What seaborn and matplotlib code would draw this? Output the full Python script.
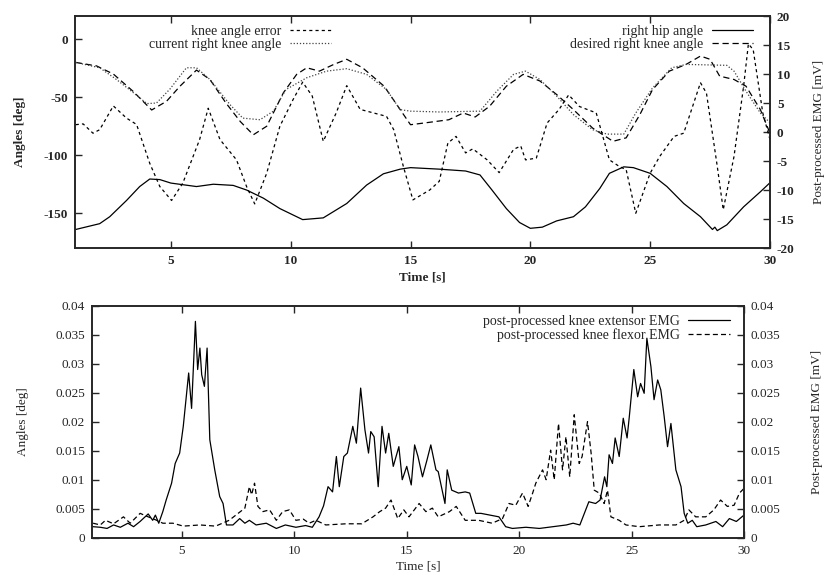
import numpy as np
import pandas as pd
import matplotlib
matplotlib.use("Agg")
import matplotlib.pyplot as plt
from matplotlib.ticker import FuncFormatter
import seaborn as sns

# ---- top panel: angles (left axis) and knee angle error (right axis) ----
hip_t = [1.03, 2.03, 2.45, 3.15, 3.7, 4.12, 4.54, 5.0, 6.07, 6.77, 7.6, 8.16, 8.86, 9.55,
         10.5, 11.36, 12.34, 13.17, 13.87, 14.57, 15.0, 16.2, 17.3, 17.9, 18.4, 19.0, 19.55,
         20.0, 20.5, 21.1, 21.8, 22.3, 22.9, 23.3, 23.9, 24.3, 25.0, 25.7, 26.4, 27.1, 27.6,
         27.7, 27.8, 28.2, 28.9, 29.6, 30.0]
hip_angle = [-164, -159, -153, -139, -127, -120.5, -121, -124, -127, -125, -126, -130, -137, -146,
             -155.5, -154, -141.6, -125.7, -116, -112, -110.7, -112, -113.6, -117, -130, -146, -158,
             -163, -162, -156.6, -153, -144.5, -128.6, -115.6, -110, -110.7, -115.6, -127, -141.6, -153, -164,
             -162, -165, -160, -144.5, -131.5, -123.7]

des_t = [1.03, 1.9, 2.6, 3.43, 4.2, 4.82, 5.38, 6.07, 6.63, 7.3, 7.9, 8.44, 9.0, 9.7, 10.25,
         10.67, 11.2, 11.8, 12.34, 13.0, 13.9, 14.57, 15.0, 15.65, 16.6, 17.2, 17.7, 18.3, 19.0,
         19.7, 20.4, 21.1, 21.8, 22.6, 23.45, 24.0, 24.57, 25.1, 25.8, 26.5, 27.1, 27.5, 27.9,
         28.5, 29.0, 29.6, 30.0]
desired_knee = [-20, -23, -30, -45, -61, -53.5, -40.5, -26.6, -34.7, -55, -71, -82.4, -75, -46, -30.3,
                -24.6, -27.5, -21.7, -17.3, -24.6, -40.5, -60.7, -73.7, -72, -69.4, -63.6, -67, -57.8, -40.5,
                -30.3, -36, -47.7, -60.7, -76.6, -88, -85, -65, -43.4, -27.5, -21.7, -14.5, -17.3, -31.8,
                -34.7, -40.5, -60.7, -81]

cur_t = [1.03, 2.03, 2.73, 3.43, 4.0, 4.4, 4.96, 5.65, 6.07, 6.63, 7.47, 8.0, 8.72, 9.28, 9.8,
         10.67, 11.5, 12.34, 13.17, 14.0, 14.57, 15.0, 16.2, 17.9, 18.6, 19.3, 19.8, 20.4, 21.1,
         21.8, 22.6, 23.2, 23.9, 24.4, 25.1, 25.9, 26.5, 28.2, 28.5, 29.0, 29.6, 30.0]
current_knee = [-20, -24.6, -34.7, -46, -55.5, -55, -43, -24.6, -24.6, -34.7, -56.4, -68, -69.4, -62, -43.4,
                -33.2, -27.5, -25.4, -30.3, -43.4, -60.7, -62, -62.7, -62, -44.8, -30.3, -27.5, -34.7, -49,
                -65, -78, -81.8, -81.8, -63.6, -42, -24.6, -21.7, -22.5, -27.5, -44.8, -63.6, -72]

err_t = [1.03, 1.34, 1.75, 2.03, 2.6, 3.15, 3.57, 4.12, 4.54, 5.03, 5.5, 6.2, 6.56, 7.05, 7.74,
         8.16, 8.5, 9.0, 9.55, 10.1, 10.5, 10.9, 11.36, 11.9, 12.34, 12.9, 13.45, 14.0, 14.3, 14.7,
         15.1, 15.8, 16.2, 16.56, 16.9, 17.3, 17.6, 18.2, 18.7, 19.3, 19.6, 19.8, 20.25, 20.7, 21.2,
         21.6, 22.05, 22.75, 23.3, 23.7, 24.0, 24.4, 25.0, 25.4, 26.0, 26.4, 27.1, 27.35, 27.8, 28.05,
         28.5, 28.9, 29.1, 29.3, 29.7, 30.0]
knee_error = [1.27, 1.4, -0.2, 0.4, 4.5, 2.4, 1.3, -5.4, -9.4, -11.8, -8.8, -1.3, 4.1, -1.3, -4.8,
              -9.4, -12.4, -7.1, 1.0, 5.6, 8.6, 6.2, -1.6, 3.3, 8.0, 3.9, 3.3, 2.7, 0.4, -5.9,
              -11.7, -10, -8.5, -1.9, -0.75, -3.6, -2.9, -4.8, -7, -3, -2.4, -4.8, -4.5, 1.55, 3.9,
              6.4, 4.4, 3.3, -4.8, -5.9, -6.5, -14, -7.1, -4.2, -0.75, -0.2, 8.5, 6.7, -5.9, -13.4,
              -4.2, 7.9, 15.2, 14.2, 3.3, -1.3]

# ---- bottom panel: post-processed EMG ----
ext_t = [1.05, 1.37, 1.67, 1.96, 2.26, 2.6, 2.85, 3.14, 3.5, 3.7, 3.82, 3.97, 4.15, 4.3, 4.54,
         4.7, 4.9, 5.06, 5.18, 5.3, 5.43, 5.5, 5.6, 5.7, 5.8, 5.88, 6.0, 6.12, 6.24, 6.46, 6.68,
         6.83, 6.98, 7.27, 7.57, 7.8, 8.0, 8.3, 8.75, 9.2, 9.6, 10.07, 10.5, 10.8, 11.1, 11.3,
         11.5, 11.7, 11.87, 12.0, 12.2, 12.36, 12.6, 12.76, 12.95, 13.14, 13.3, 13.4, 13.55, 13.73,
         13.9, 14.06, 14.2, 14.4, 14.65, 14.8, 15.0, 15.2, 15.35, 15.5, 15.7, 15.9, 16.07, 16.3,
         16.4, 16.7, 16.8, 17.0, 17.3, 17.6, 17.8, 18.07, 18.3, 18.7, 19.1, 19.4, 19.7, 20.3,
         20.9, 21.5, 22.1, 22.4, 22.7, 22.9, 23.1, 23.4, 23.6, 23.8, 23.9, 24.0, 24.15, 24.27,
         24.45, 24.63, 24.8, 24.9, 25.1, 25.27, 25.4, 25.56, 25.68, 25.86, 26.0, 26.16, 26.3,
         26.45, 26.6, 26.75, 26.97, 27.2, 27.34, 27.5, 27.7, 27.9, 28.3, 28.75, 29.05, 29.35,
         29.66, 30.0]
extensor_emg = [0.0019, 0.0018, 0.0016, 0.0022, 0.0018, 0.0025, 0.0019, 0.0028, 0.0041, 0.0030, 0.0039,
                0.0025, 0.0045, 0.0065, 0.0094, 0.0128, 0.0146, 0.0192, 0.0238, 0.0284, 0.0223, 0.0284,
                0.0373, 0.0290, 0.0327, 0.0281, 0.0261, 0.0327, 0.0169, 0.0117, 0.0071, 0.0059, 0.0022,
                0.0022, 0.0033, 0.0025, 0.0030, 0.0022, 0.0025, 0.0016, 0.0022, 0.0018, 0.0021, 0.0018,
                0.0036, 0.0055, 0.0088, 0.0079, 0.0140, 0.0088, 0.0140, 0.0146, 0.0192, 0.0163, 0.0258,
                0.0186, 0.0146, 0.0183, 0.0174, 0.0088, 0.0192, 0.0146, 0.0180, 0.0123, 0.0157, 0.0100,
                0.0123, 0.0091, 0.0160, 0.0140, 0.0105, 0.0134, 0.0160, 0.0117, 0.0114, 0.0059, 0.0117,
                0.0082, 0.0077, 0.0079, 0.0077, 0.0042, 0.0042, 0.0039, 0.0036, 0.0019, 0.0016, 0.0018,
                0.0016, 0.0019, 0.0022, 0.0025, 0.0022, 0.0042, 0.0062, 0.0059, 0.0065, 0.0105, 0.0088,
                0.0143, 0.0128, 0.0172, 0.0140, 0.0206, 0.0172, 0.0209, 0.0290, 0.0243, 0.0266, 0.0249,
                0.0344, 0.0295, 0.0238, 0.0272, 0.0255, 0.0209, 0.0157, 0.0197, 0.0117, 0.0088, 0.0042,
                0.0025, 0.0030, 0.0019, 0.0022, 0.0028, 0.0019, 0.0033, 0.0028, 0.0039]

flx_t = [1.05, 1.37, 1.6, 1.96, 2.4, 2.7, 3.14, 3.5, 3.88, 4.15, 4.6, 5.06, 5.8, 6.5, 7.1,
         7.4, 7.8, 8.0, 8.1, 8.23, 8.38, 8.6, 8.9, 9.2, 9.48, 9.78, 10.07, 10.4, 10.66, 10.96,
         11.4, 12.3, 13.0, 13.5, 13.8, 14.06, 14.3, 14.6, 14.87, 15.1, 15.55, 15.85, 16.14, 16.4,
         16.9, 17.2, 17.6, 18.2, 18.8, 19.26, 19.55, 19.85, 20.15, 20.4, 20.6, 20.74, 21.04, 21.2,
         21.4, 21.56, 21.75, 21.93, 22.08, 22.25, 22.45, 22.67, 22.8, 23.04, 23.2, 23.34, 23.56,
         23.78, 23.93, 24.08, 24.45, 24.75, 25.34, 26.23, 26.97, 27.34, 27.55, 27.85, 28.3, 28.66,
         28.96, 29.26, 29.56, 29.8, 30.0]
flexor_emg = [0.0025, 0.0022, 0.0030, 0.0024, 0.0036, 0.0025, 0.0042, 0.0036, 0.0030, 0.0025, 0.0025,
              0.0020, 0.0022, 0.0020, 0.0030, 0.0039, 0.0051, 0.0088, 0.0074, 0.0094, 0.0054, 0.0045,
              0.0048, 0.0030, 0.0045, 0.0048, 0.0030, 0.0032, 0.0025, 0.0030, 0.0022, 0.0024, 0.0024,
              0.0036, 0.0045, 0.0051, 0.0065, 0.0033, 0.0048, 0.0036, 0.0059, 0.0045, 0.0051, 0.0036,
              0.0045, 0.0054, 0.0030, 0.0030, 0.0025, 0.0033, 0.0059, 0.0056, 0.0077, 0.0054, 0.0077,
              0.0094, 0.0117, 0.0100, 0.0151, 0.0100, 0.0197, 0.0117, 0.0174, 0.0105, 0.0212, 0.0128,
              0.0140, 0.0200, 0.0146, 0.0082, 0.0077, 0.0059, 0.0082, 0.0036, 0.0030, 0.0022, 0.0019,
              0.0022, 0.0022, 0.0030, 0.0048, 0.0036, 0.0036, 0.0048, 0.0065, 0.0054, 0.0056, 0.0077,
              0.0085]

sns.set_style("ticks")
plt.rcParams['font.family'] = ['Liberation Serif', 'DejaVu Serif']
plt.rcParams['axes.unicode_minus'] = False

fig = plt.figure(figsize=(8.25, 5.81), dpi=100)
ax1 = fig.add_axes([0.0909, 0.5731, 0.8424, 0.3993])
ax1r = ax1.twinx()
ax2 = fig.add_axes([0.1115, 0.0745, 0.7903, 0.3993])
ax2r = ax2.twinx()

lw = 0.9
fs = 9.5
lfs = 10

# top panel
sns.lineplot(x=hip_t, y=hip_angle, ax=ax1, color='k', lw=lw, label='right hip angle')
l_hip = ax1.lines[-1]
sns.lineplot(x=des_t, y=desired_knee, ax=ax1, color='k', lw=lw, linestyle=(0, (5, 3)),
             label='desired right knee angle')
l_des = ax1.lines[-1]
sns.lineplot(x=cur_t, y=current_knee, ax=ax1, color='#444444', lw=lw, linestyle=(0, (1, 1.5)),
             label='current right knee angle')
l_cur = ax1.lines[-1]
sns.lineplot(x=err_t, y=knee_error, ax=ax1r, color='k', lw=lw, linestyle=(0, (2.5, 2.5)),
             label='knee angle error')
l_err = ax1r.lines[-1]
for a in (ax1, ax1r):
    if a.get_legend():
        a.get_legend().remove()

ax1.set_xlim(1, 30)
ax1.set_ylim(-180, 20)
ax1r.set_ylim(-20, 20)
ax1.set_xticks([5, 10, 15, 20, 25, 30])
ax1.set_yticks([0, -50, -100, -150])
ax1r.set_yticks(np.arange(-20, 21, 5))
ax1.set_xlabel('Time [s]', fontsize=fs, fontweight='bold', labelpad=3)
ax1.set_ylabel('Angles [deg]', fontsize=fs, fontweight='bold', labelpad=12.5)
ax1r.set_ylabel('Post-processed EMG [mV]', fontsize=fs, labelpad=13)

leg1 = ax1r.legend([l_err, l_cur], ['knee angle error', 'current right knee angle'],
                   loc='upper right', bbox_to_anchor=(0.387, 1.015), frameon=False, markerfirst=False,
                   fontsize=lfs, handlelength=3, labelspacing=0.0, handletextpad=0.6)
ax1r.add_artist(leg1)
ax1r.legend([l_hip, l_des], ['right hip angle', 'desired right knee angle'],
            loc='upper right', bbox_to_anchor=(0.994, 1.015), frameon=False, markerfirst=False,
            fontsize=lfs, handlelength=3, labelspacing=0.0, handletextpad=0.6)

# bottom panel
sns.lineplot(x=ext_t, y=extensor_emg, ax=ax2, color='k', lw=lw)
l_ext = ax2.lines[-1]
sns.lineplot(x=flx_t, y=flexor_emg, ax=ax2, color='k', lw=lw, linestyle=(0, (4, 2.5)))
l_flx = ax2.lines[-1]
ax2.set_xlim(1, 30)
ax2.set_ylim(0, 0.04)
ax2r.set_ylim(0, 0.04)
ax2.set_xticks([5, 10, 15, 20, 25, 30])
emg_ticks = np.arange(0, 0.0401, 0.005)
ax2.set_yticks(emg_ticks)
ax2r.set_yticks(emg_ticks)
fmt = FuncFormatter(lambda v, p: '%g' % round(v, 4))
ax2.yaxis.set_major_formatter(fmt)
ax2r.yaxis.set_major_formatter(fmt)
ax2.set_xlabel('Time [s]', fontsize=fs, labelpad=3)
ax2.set_ylabel('Angles [deg]', fontsize=fs, labelpad=19)
ax2r.set_ylabel('Post-processed EMG [mV]', fontsize=fs, labelpad=22)
ax2r.legend([l_ext, l_flx], ['post-processed knee extensor EMG', 'post-processed knee flexor EMG'],
            loc='upper right', bbox_to_anchor=(0.997, 1.015), frameon=False, markerfirst=False,
            fontsize=lfs, handlelength=3, labelspacing=0.0, handletextpad=0.6)

for a, bold in ((ax1, True), (ax1r, True), (ax2, False), (ax2r, False)):
    a.tick_params(direction='in', length=5, width=1, labelsize=fs, top=True, pad=5)
    for s in a.spines.values():
        s.set_linewidth(1.2)
        s.set_visible(True)
    if bold:
        for t in a.get_xticklabels() + a.get_yticklabels():
            t.set_fontweight('bold')
ax1r.tick_params(axis='x', top=False)
ax2r.tick_params(axis='x', top=False)
ax1.tick_params(axis='y', right=False)
ax2.tick_params(axis='y', right=False)

fig.savefig('out.png', dpi=100)
